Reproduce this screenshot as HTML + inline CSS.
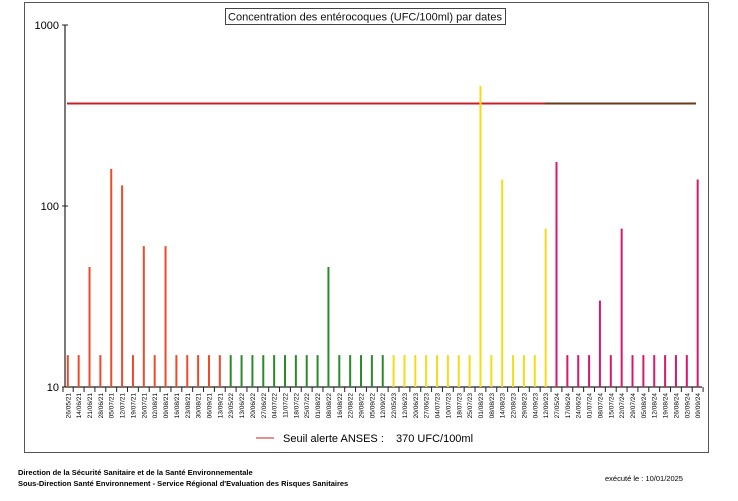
<!DOCTYPE html>
<html><head><meta charset="utf-8"><style>body{margin:0;background:#fff}svg{display:block}text{font-family:"Liberation Sans",sans-serif}</style></head><body>
<svg width="738" height="501" viewBox="0 0 738 501" xmlns="http://www.w3.org/2000/svg" id="s">
<rect x="24.5" y="2.5" width="684" height="450" fill="none" stroke="#555" stroke-width="1"/>
<rect x="225.5" y="8.5" width="280" height="16" fill="#fff" stroke="#444" stroke-width="1"/>
<text x="365" y="20.5" font-size="11" text-anchor="middle" fill="#111">Concentration des entérocoques (UFC/100ml) par dates</text>
<line x1="65" y1="25" x2="65" y2="387" stroke="#222" stroke-width="1.2"/>
<line x1="62" y1="25" x2="68" y2="25" stroke="#222"/>
<line x1="62" y1="206" x2="68" y2="206" stroke="#222"/>
<line x1="62" y1="387" x2="68" y2="387" stroke="#222"/>
<text x="59" y="29" font-size="11" text-anchor="end">1000</text>
<text x="59" y="210" font-size="11" text-anchor="end">100</text>
<text x="59" y="391" font-size="11" text-anchor="end">10</text>
<line x1="65" y1="387" x2="702" y2="387" stroke="#222" stroke-width="1.2"/>
<line x1="67" y1="103.5" x2="545" y2="103.5" stroke="#c8202a" stroke-width="2"/>
<line x1="545" y1="103.5" x2="696" y2="103.5" stroke="#6a3a1a" stroke-width="2"/>
<g id="bars"></g>
<line x1="256" y1="438" x2="274" y2="438" stroke="#c8202a" stroke-width="1"/>
<text x="283" y="442" font-size="11">Seuil alerte ANSES :</text>
<text x="396" y="442" font-size="11">370  UFC/100ml</text>
<text x="18" y="475" font-size="7.5" font-weight="bold">Direction de la Sécurité Sanitaire et de la Santé Environnementale</text>
<text x="18" y="486" font-size="7.5" font-weight="bold">Sous-Direction Santé Environnement - Service Régional d'Evaluation des Risques Sanitaires</text>
<text x="605" y="481" font-size="7.5">exécuté le :  10/01/2025</text>
</svg>
<script>
var L=["26/05/21","14/06/21","21/06/21","28/06/21","05/07/21","12/07/21","19/07/21","26/07/21","02/08/21","09/08/21","16/08/21","23/08/21","30/08/21","06/09/21","13/09/21",
"23/05/22","13/06/22","20/06/22","27/06/22","04/07/22","11/07/22","18/07/22","25/07/22","01/08/22","08/08/22","16/08/22","22/08/22","29/08/22","05/09/22","12/09/22",
"22/05/23","12/06/23","20/06/23","27/06/23","04/07/23","10/07/23","18/07/23","25/07/23","01/08/23","08/08/23","14/08/23","22/08/23","29/08/23","04/09/23","12/09/23",
"27/05/24","17/06/24","24/06/24","01/07/24","08/07/24","15/07/24","22/07/24","29/07/24","05/08/24","12/08/24","19/08/24","26/08/24","02/09/24","09/09/24"];
var V=[15,15,46,15,160,130,15,60,15,60,15,15,15,15,15,
15,15,15,15,15,15,15,15,15,46,15,15,15,15,15,
15,15,15,15,15,15,15,15,460,15,140,15,15,15,75,
175,15,15,15,30,15,75,15,15,15,15,15,15,140];
var C=["#ee4a2a","#2a8a2a","#f5dc14","#d8186a"];
var s="",ns="http://www.w3.org/2000/svg";
for(var i=0;i<59;i++){var x=67.8+i*10.86;var y=387-181*Math.log10(V[i]/10);
var c=C[i<15?0:i<30?1:i<45?2:3];
s+='<line x1="'+x+'" y1="387" x2="'+x+'" y2="'+y+'" stroke="'+c+'" stroke-width="2"/>';
var tx=x+5.4;s+='<line x1="'+tx+'" y1="387" x2="'+tx+'" y2="392" stroke="#222"/>';
s+='<text transform="translate('+(x+2.5)+',393) rotate(-90)" font-size="6.5" text-anchor="end">'+L[i]+'</text>';}
s+='<line x1="63" y1="387" x2="63" y2="392" stroke="#222"/>';
document.getElementById("bars").innerHTML=s;
</script>
</body></html>
